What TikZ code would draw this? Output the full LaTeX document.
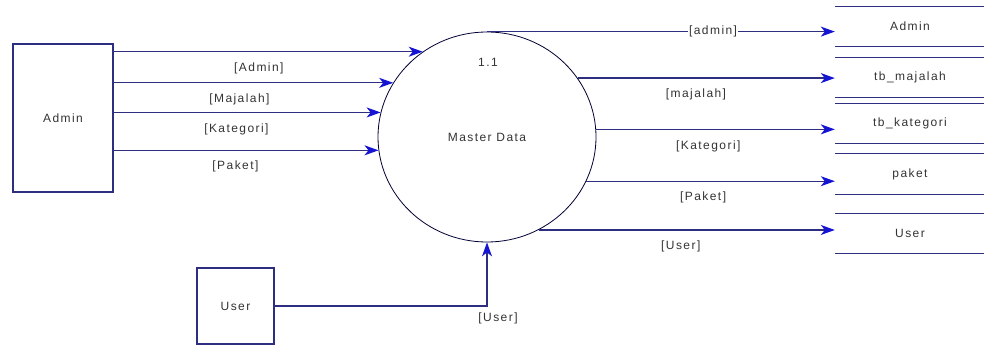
\documentclass[tikz,border=0pt]{standalone}
\usepackage{fontspec}
\usetikzlibrary{arrows.meta,shapes.geometric}
\newfontfamily\dfdfont[LetterSpace=12]{Liberation Sans}
\definecolor{linenavy}{HTML}{2E2E80}
\definecolor{tipblue}{HTML}{1414D2}

\begin{document}
\begin{tikzpicture}[x=1pt,y=-1pt,
        every node/.style={font=\dfdfont\fontsize{12}{14}\selectfont,text=black!80},
        entity/.style={rectangle,draw=linenavy,line width=1.2pt,inner sep=0pt},
        process/.style={ellipse,draw=black!80!blue,line width=0.8pt,minimum width=218pt,minimum height=210pt,inner sep=0pt},
        storeline/.style={draw=linenavy,line width=1.2pt},
        store/.style={rectangle,minimum width=150pt,minimum height=40pt,inner sep=0pt,
            append after command={(\tikzlastnode.north west) edge[storeline] (\tikzlastnode.north east)
                                  (\tikzlastnode.south west) edge[storeline] (\tikzlastnode.south east)}},
        flow tip/.tip={Stealth[length=14pt,width=10pt,inset=4pt,color=tipblue]},
        flow/.style={draw=linenavy,line width=1.2pt,-flow tip},
        flow label/.style={below=7pt}]
        \useasboundingbox (0, 0) rectangle (984, 345);

        \node[entity, minimum width=100pt, minimum height=148pt] at (63, 118) (admin) {Admin};
        \node[entity, minimum width=77pt, minimum height=76pt] at (235.5, 306) (user) {User};
        \node[process] at (487, 137) (md) {Master Data};
        \node at (488, 62) (mdnum) {1.1};

        \node[store] at (910, 26.5) (sadmin) {Admin};
        \node[store] at (910, 77.5) (smajalah) {tb\_majalah};
        \node[store] at (910, 123.5) (skategori) {tb\_kategori};
        \node[store] at (910, 174) (spaket) {paket};
        \node[store] at (910, 233.5) (suser) {User};

        \path
            (admin.east |- md.127.9) edge[flow] node[flow label, pos=.47] {[Admin]} (md.127.9)
            (admin.east |- md.150.6) edge[flow] node[flow label, pos=.45] {[Majalah]} (md.150.6)
            (admin.east |- md.167.3) edge[flow] node[flow label, pos=.46] {[Kategori]} (md.167.3)
            (admin.east |- md.187.9) edge[flow] node[flow label, pos=.46] {[Paket]} (md.187.9)
            (md.north) edge[flow] node[fill=white, inner sep=1pt, pos=.65] {[admin]} (sadmin.west |- md.north)
            (md.33.8) edge[flow] node[flow label, pos=.46] {[majalah]} (smajalah.west |- md.33.8)
            (md.4.7) edge[flow] node[flow label, pos=.47] {[Kategori]} (skategori.west |- md.4.7)
            (md.336.6) edge[flow] node[flow label, pos=.47] {[Paket]} (spaket.west |- md.336.6)
            (md.299.7) edge[flow] node[flow label, pos=.48] {[User]} (suser.west |- md.299.7)
            ;
        \draw[flow] (user.east) -| node[pos=.5, below=3pt, xshift=11pt] {[User]} (md.south);
        \end{tikzpicture}
\end{document}
